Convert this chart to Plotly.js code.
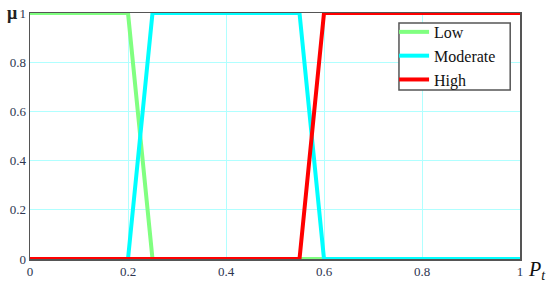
<!DOCTYPE html>
<html>
<head>
<meta charset="utf-8">
<script src="https://cdn.plot.ly/plotly-3.0.1.min.js"></script>
<style>
  html, body { margin: 0; padding: 0; background: #fff; }
  #chartDiv { width: 550px; height: 285px; }
</style>
</head>
<body>
<div id="chartDiv"></div>
<script>
// membership functions for P_t
var pt_low = [0, 0.2, 0.25, 1];
var mu_low = [1, 1, 0, 0];

var pt_mod = [0, 0.2, 0.25, 0.55, 0.6, 1];
var mu_mod = [0, 0, 1, 1, 0, 0];

var pt_high = [0, 0.55, 0.6, 1];
var mu_high = [0, 0, 1, 1];

var tickVals = [0, 0.2, 0.4, 0.6, 0.8, 1];
var tickText = ['0', '0.2', '0.4', '0.6', '0.8', '1'];

var serif = 'Liberation Serif, Times New Roman, serif';
var labelColor = '#2d3550';

var traceLow = {
  x: pt_low, y: mu_low, mode: 'lines', name: 'Low',
  line: {color: '#80ff80', width: 4}, cliponaxis: false
};
var traceMod = {
  x: pt_mod, y: mu_mod, mode: 'lines', name: 'Moderate',
  line: {color: '#00ffff', width: 4}, cliponaxis: false
};
var traceHigh = {
  x: pt_high, y: mu_high, mode: 'lines', name: 'High',
  line: {color: '#ff0000', width: 4}, cliponaxis: false
};

var layout = {
  width: 550,
  height: 285,
  margin: {l: 30, r: 30, t: 13, b: 26},
  paper_bgcolor: '#fff',
  plot_bgcolor: '#fff',
  showlegend: true,
  font: {family: serif},
  xaxis: {
    range: [0, 1],
    tickvals: tickVals, ticktext: tickText,
    showgrid: true, gridcolor: '#b0ffff', gridwidth: 1,
    zeroline: false,
    showline: true, linecolor: '#555', linewidth: 1.5, mirror: true,
    layer: 'below traces',
    ticks: '', ticklen: 0,
    tickfont: {family: serif, size: 13, color: labelColor}
  },
  yaxis: {
    range: [0, 1],
    tickvals: tickVals, ticktext: tickText,
    showgrid: true, gridcolor: '#b0ffff', gridwidth: 1,
    zeroline: false,
    showline: true, linecolor: '#555', linewidth: 1.5, mirror: true,
    layer: 'below traces',
    ticks: '', ticklen: 0,
    tickfont: {family: serif, size: 13, color: labelColor}
  },
  // legend box drawn as a shape so it can hug the entries
  shapes: [{
    type: 'rect', xref: 'paper', yref: 'paper', layer: 'above',
    x0: 0.753, x1: 0.98, y0: 0.687, y1: 0.959,
    line: {color: '#555', width: 1.5}, fillcolor: 'rgba(255,255,255,1)'
  }],
  legend: {
    x: 0.743, y: 0.992, xanchor: 'left', yanchor: 'top',
    bgcolor: 'rgba(0,0,0,0)', borderwidth: 0,
    font: {family: serif, size: 16, color: '#111'},
    tracegroupgap: 0
  },
  annotations: [
    {
      text: '<b>μ</b>', xref: 'paper', yref: 'paper', x: -0.036, y: 1,
      xanchor: 'center', yanchor: 'middle', showarrow: false,
      font: {family: serif, size: 18, color: '#222'}
    },
    {
      text: '<i>P<sub>t</sub></i>', xref: 'paper', yref: 'paper', x: 1.012, y: -0.045,
      xanchor: 'left', yanchor: 'middle', showarrow: false,
      font: {family: serif, size: 20, color: '#111'}
    }
  ]
};

Plotly.newPlot('chartDiv', [traceLow, traceMod, traceHigh], layout, {displayModeBar: false, staticPlot: true});
</script>
</body>
</html>
